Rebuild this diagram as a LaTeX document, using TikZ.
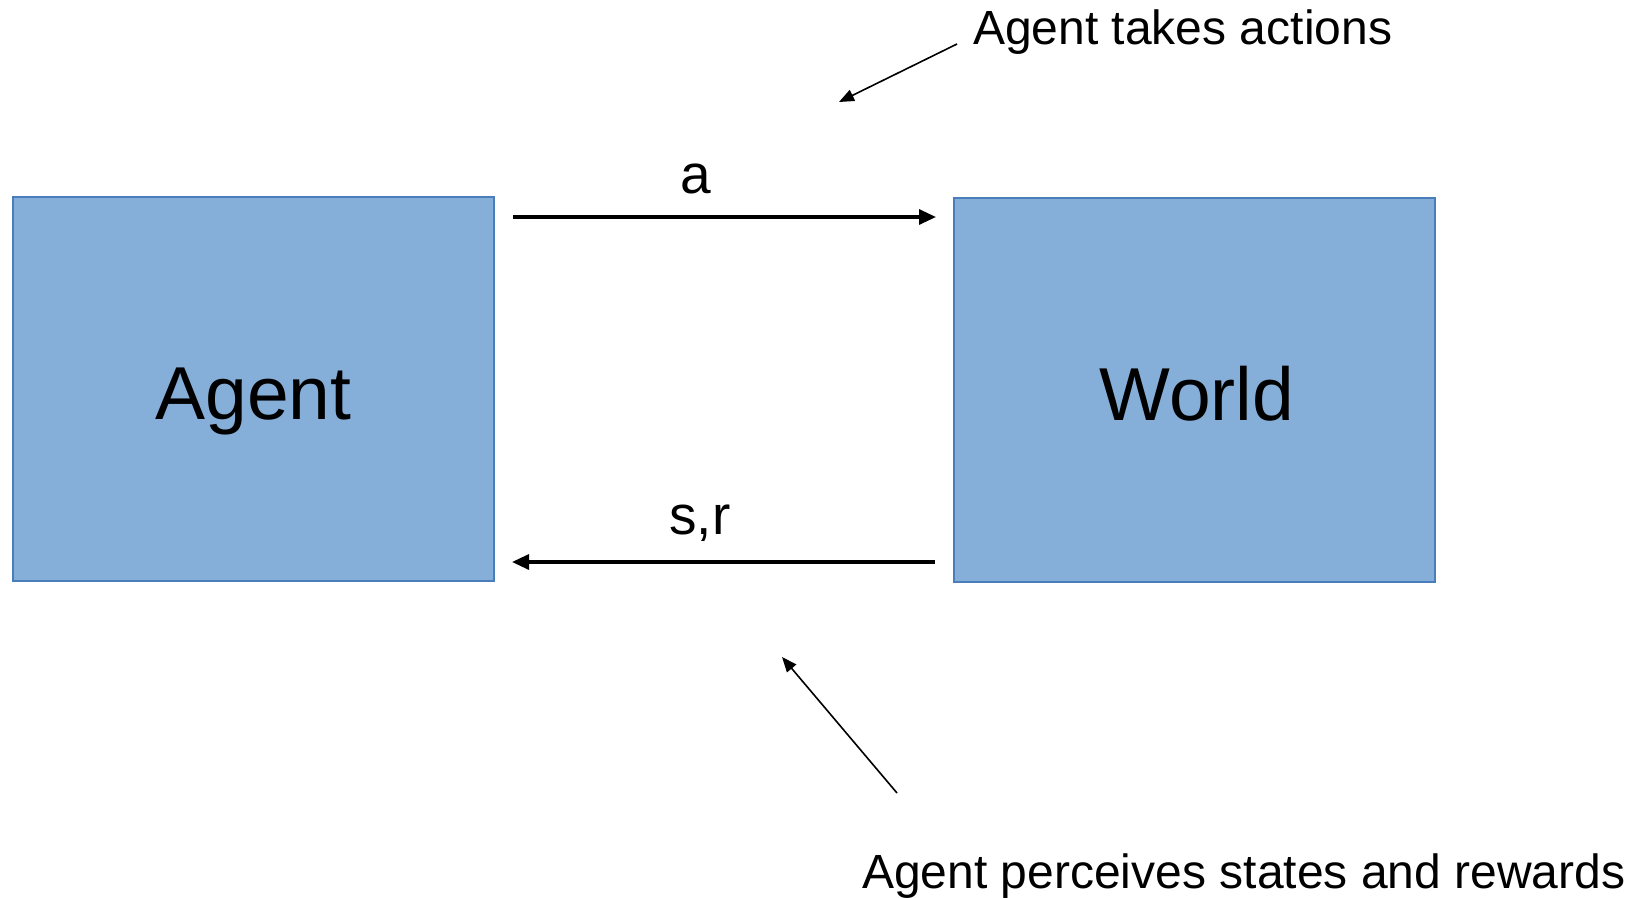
\documentclass[tikz,border=0pt]{standalone}
\usepackage{fontspec}
\setmainfont{Liberation Sans}
\usetikzlibrary{arrows.meta}

\definecolor{boxfill}{HTML}{85AED9}
\definecolor{boxedge}{HTML}{4A7EBB}

\tikzset{
  block/.style={draw=boxedge, line width=2pt, fill=boxfill, minimum width=481pt, minimum height=384pt, inner sep=0pt, outer sep=0pt},
  bigtext/.style={font=\fontsize{75}{90}\selectfont, anchor=base, inner sep=0pt},
  flowlabel/.style={font=\fontsize{55}{66}\selectfont, anchor=base, inner sep=0pt},
  note/.style={font=\fontsize{48}{58}\selectfont, anchor=base west, inner sep=0pt},
  flow/.style={line width=3.2pt, -{Triangle[length=17pt,width=15pt]}},
  pointer/.style={line width=1.6pt, -{Triangle[length=15pt,width=12pt]}}
}

\begin{document}
\begin{tikzpicture}[x=1pt, y=-1pt]
  \useasboundingbox (0,0) rectangle (1646,897);

  % the two blocks
  \node[block] (agent) at (253.5,389) {};
  \node[block] (world) at (1194,389.5) {};
  \node[bigtext] (agentname) at (253.5,419) {Agent};
  \node[bigtext] (worldname) at (1197,420) {World};

  % action and perception flows
  \coordinate (aStart) at (513,217);
  \coordinate (aEnd)   at (936,217);
  \coordinate (sStart) at (935,562);
  \coordinate (sEnd)   at (512,562);
  \draw[flow] (aStart) -- (aEnd);
  \draw[flow] (sStart) -- (sEnd);
  \node[flowlabel] (alabel) at (696,193) {a};
  \node[flowlabel] (srlabel) at (700,534) {s,r};

  % annotations
  \node[note] (takes) at (973,44) {Agent takes actions};
  \coordinate (takesTail) at (957,44);
  \coordinate (takesTip)  at (839,102);
  \draw[pointer] (takesTail) -- (takesTip);

  \node[note] (perceives) at (862,888) {Agent perceives states and rewards};
  \coordinate (percTail) at (897,793);
  \coordinate (percTip)  at (782,657);
  \draw[pointer] (percTail) -- (percTip);
\end{tikzpicture}
\end{document}
